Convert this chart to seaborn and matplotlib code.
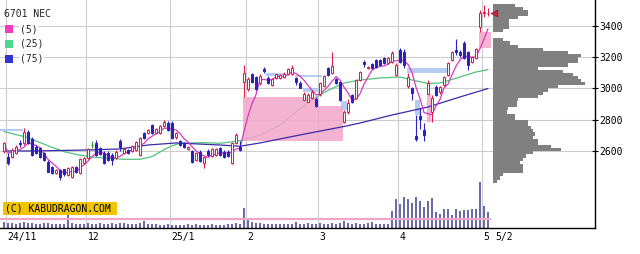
import numpy as np
import pandas as pd
import matplotlib
matplotlib.use("Agg")
import matplotlib.pyplot as plt
from matplotlib.patches import Rectangle
from matplotlib.transforms import blended_transform_factory
import seaborn as sns

# ---------------- data ----------------
title = "6701 NEC"
ma_labels = ["(5)", "(25)", "(75)"]
copyright_text = "(C) KABUDRAGON.COM"

month_start = [1, 21, 42, 61, 79, 99, 120]
month_labels = ["24/11", "12", "25/1", "2", "3", "4", "5"]
last_label = "5/2"
price_ticks = [2600, 2800, 3000, 3200, 3400]

open_ = [2602, 2566, 2566, 2588, 2655, 2651, 2725, 2676, 2630, 2620,
         2588, 2534, 2498, 2460, 2481, 2485, 2449, 2438, 2498, 2462,
         2525, 2557, 2640, 2652, 2620, 2588, 2588, 2577, 2556, 2666,
         2589, 2608, 2602, 2608, 2577, 2715, 2715, 2767, 2715, 2719,
         2761, 2782, 2782, 2689, 2668, 2655, 2613, 2604, 2545, 2598,
         2525, 2604, 2570, 2577, 2620, 2598, 2598, 2528, 2652, 2630,
         3044, 2997, 3092, 3073, 3035, 3125, 3067, 3022, 3067, 3067,
         3073, 3092, 3092, 3067, 3035, 2927, 2914, 2939, 2933, 2965,
         3016, 3131, 3099, 3060, 3041, 2787, 2850, 2959, 2940, 3054,
         3169, 3131, 3156, 3182, 3182, 3194, 3162, 3169, 3086, 3245,
         3232, 3016, 3003, 2700, 2825, 2736, 2968, 2850, 3010, 2978,
         3022, 3086, 3182, 3245, 3232, 3290, 3232, 3169, 3194, 3392,
         3480, 3478]
high_ = [2662, 2590, 2620, 2640, 2672, 2746, 2735, 2690, 2640, 2630,
         2595, 2545, 2505, 2490, 2485, 2490, 2500, 2505, 2505, 2560,
         2565, 2622, 2667, 2672, 2630, 2600, 2600, 2590, 2606, 2676,
         2622, 2615, 2640, 2668, 2690, 2722, 2745, 2775, 2748, 2765,
         2800, 2795, 2795, 2725, 2675, 2660, 2636, 2610, 2596, 2605,
         2570, 2612, 2622, 2620, 2628, 2605, 2605, 2660, 2716, 2666,
         3150, 3071, 3100, 3080, 3090, 3137, 3080, 3070, 3095, 3095,
         3105, 3130, 3150, 3073, 3045, 2978, 2970, 2990, 2945, 3040,
         3086, 3140, 3234, 3070, 3050, 2863, 2930, 2965, 3060, 3112,
         3182, 3145, 3165, 3190, 3188, 3201, 3201, 3236, 3160, 3258,
         3250, 3099, 3010, 2831, 2875, 2780, 3054, 2960, 3022, 3016,
         3080, 3170, 3240, 3315, 3245, 3300, 3240, 3210, 3258, 3500,
         3532, 3510]
low_ = [2589, 2515, 2555, 2580, 2625, 2640, 2645, 2570, 2580, 2560,
        2540, 2465, 2455, 2455, 2417, 2445, 2440, 2432, 2462, 2455,
        2518, 2550, 2619, 2570, 2578, 2518, 2538, 2513, 2548, 2600,
        2582, 2580, 2595, 2600, 2570, 2678, 2708, 2710, 2708, 2712,
        2755, 2730, 2678, 2680, 2634, 2620, 2608, 2528, 2538, 2532,
        2494, 2570, 2562, 2570, 2570, 2560, 2563, 2520, 2645, 2600,
        2946, 2986, 3035, 2990, 3025, 3099, 3028, 3015, 3060, 3060,
        3068, 3085, 3086, 3022, 3003, 2930, 2912, 2935, 2884, 2955,
        3010, 3080, 3095, 3028, 2920, 2780, 2840, 2905, 2930, 3048,
        3137, 3125, 3125, 3130, 3144, 3156, 3155, 3162, 3080, 3162,
        3131, 3003, 2927, 2666, 2740, 2666, 2965, 2787, 2950, 2965,
        3015, 3080, 3175, 3213, 3200, 3185, 3118, 3160, 3185, 3360,
        3455, 3460]
close_ = [2652, 2524, 2608, 2630, 2645, 2725, 2651, 2577, 2588, 2566,
          2545, 2470, 2460, 2481, 2438, 2455, 2492, 2498, 2470, 2549,
          2557, 2614, 2640, 2577, 2583, 2524, 2545, 2545, 2598, 2626,
          2615, 2590, 2634, 2661, 2683, 2683, 2736, 2715, 2740, 2758,
          2787, 2736, 2683, 2718, 2640, 2626, 2630, 2534, 2589, 2540,
          2564, 2577, 2615, 2615, 2577, 2566, 2570, 2652, 2704, 2608,
          3101, 3060, 3041, 2997, 3080, 3110, 3035, 3060, 3092, 3086,
          3092, 3124, 3131, 3041, 3003, 2965, 2959, 2978, 2888, 3035,
          3080, 3086, 3143, 3035, 2927, 2850, 2908, 2914, 3054, 3105,
          3155, 3137, 3131, 3137, 3150, 3162, 3194, 3226, 3150, 3169,
          3150, 3073, 2971, 2680, 2806, 2704, 3035, 2940, 2959, 3010,
          3073, 3162, 3232, 3232, 3213, 3194, 3150, 3201, 3250, 3480,
          3487, 3483]

volume = [6, 5, 5, 4, 5, 6, 5, 5, 4, 4, 5, 5, 4, 4, 4, 4, 13, 5, 4, 4, 4,
          5, 4, 4, 5, 4, 4, 5, 4, 5, 5, 4, 4, 4, 5, 7, 4, 4, 4, 3, 3, 4,
          3, 3, 3, 3, 4, 3, 4, 3, 3, 3, 4, 3, 3, 3, 4, 4, 5, 4,
          20, 9, 6, 5, 5, 4, 4, 4, 4, 4, 4, 4, 4, 6, 4, 4, 5, 4, 4, 5,
          4, 4, 5, 4, 5, 7, 5, 4, 5, 4, 4, 5, 6, 4, 4, 4, 4, 17, 29,
          24, 31, 29, 25, 31, 27, 21, 27, 30, 16, 14, 19, 19, 13, 19, 17,
          18, 18, 19, 19, 46, 22, 16]
volume_avg = 9.5

ma25_idx = [0, 6, 12, 15, 18, 22, 26, 30, 34, 37, 40, 42, 44, 50, 54, 57, 60,
            64, 69, 73, 76, 78, 81, 85, 89, 94, 99, 102, 106, 109, 111, 114,
            118, 121]
ma25_val = [2726, 2687, 2625, 2598, 2580, 2563, 2556, 2549, 2549, 2566, 2610,
            2635, 2651, 2655, 2651, 2660, 2672, 2704, 2767, 2850, 2910, 2944,
            2988, 3035, 3054, 3067, 3073, 3054, 3032, 3035, 3050, 3073, 3105,
            3120]
ma75_idx = [0, 7, 14, 22, 29, 36, 43, 49, 54, 59, 64, 74, 85, 89, 97, 106, 114, 121]
ma75_val = [2602, 2602, 2605, 2609, 2615, 2640, 2653, 2646, 2640, 2632, 2653,
            2704, 2758, 2780, 2831, 2882, 2946, 3000]

# price gaps (windows): from / to candle index, low / high price, up-gap flag
gap_from = [-1, 59.75, 59.75, 65.5, 72.75, 74.75, 84.25, 100.75, 102.75, 105.75, 118.75]
gap_to = [4.75, 78.5, 84.75, 70.25, 79.5, 78.5, 85.75, 110.75, 104.0, 106.75, 121.75]
gap_low = [2729, 2888, 2666, 3080, 3073, 2978, 2863, 3099, 2831, 2787, 3258]
gap_high = [2742, 2946, 2888, 3099, 3086, 3003, 2920, 3131, 2927, 2965, 3360]
gap_up = [False, True, True, False, False, False, False, False, False, True, True]

# price-by-volume profile (20-yen bins starting at 2400)
profile_bins = [2400, 2420, 2440, 2460, 2480, 2500, 2520, 2540, 2560, 2580,
                2600, 2620, 2640, 2660, 2680, 2700, 2720, 2740, 2760, 2780,
                2800, 2820, 2840, 2860, 2880, 2900, 2920, 2940, 2960, 2980,
                3000, 3020, 3040, 3060, 3080, 3100, 3120, 3140, 3160, 3180,
                3200, 3220, 3240, 3260, 3280, 3300, 3320, 3340, 3360, 3380,
                3400, 3420, 3440, 3460, 3480, 3500, 3520]
profile_vol = [4, 7, 10, 30, 30, 30, 27, 30, 33, 40,
               68, 58, 45, 45, 40, 42, 40, 38, 35, 35,
               22, 22, 14, 15, 24, 24, 25, 45, 50, 55,
               65, 92, 88, 85, 80, 70, 45, 75, 85, 85,
               88, 75, 50, 25, 17, 10, 0, 0, 10, 16,
               16, 16, 25, 35, 35, 30, 22]

# ---------------- style ----------------
sns.set_theme(style="white")
plt.rcParams['font.family'] = ['DejaVu Sans Mono', 'DejaVu Sans']

W, H = 640, 254
UP, DOWN, DOJI = "#dc1e4b", "#2a22c0", "#2f9a3a"
C_MA5, C_MA25, C_MA75 = "#d838c0", "#52c27c", "#3a2aa8"
PINK, LBLUE = "#f2a6c9", "#a9c3f0"
FS = 7

fig = plt.figure(figsize=(W / 100, H / 100), dpi=100)
fig.patch.set_facecolor("white")
ax = fig.add_axes([0, 26 / H, 595 / W, 228 / H])
axv = ax.twinx()
ax.set_zorder(axv.get_zorder() + 1)
ax.patch.set_visible(False)

n = len(close_)
idx = np.arange(n)
o = np.array(open_, float); h = np.array(high_, float)
l = np.array(low_, float); c = np.array(close_, float)

xmin, xmax = -1, 147.75
ymin, ymax = 2111.3, 3563.7

# volume
axv.bar(idx, volume, width=0.3, color="#6a6aa6", linewidth=0, zorder=2)
axv.hlines(volume_avg, -1, n - 0.3, color="#f0a4c8", linewidth=1.6, zorder=3)
axv.set_ylim(0, 228)
axv.set_yticks([])
for s in axv.spines.values():
    s.set_visible(False)

# grid
ax.set_xlim(xmin, xmax)
ax.set_ylim(ymin, ymax)
ax.set_xticks([m - 0.5 for m in month_start])
ax.set_xticklabels([])
ax.set_yticks(price_ticks)
ax.set_yticklabels([str(p) for p in price_ticks])
ax.grid(True, which="major", color="#cccccc", linewidth=0.8)
ax.set_axisbelow(True)

# volume profile
ax.barh(profile_bins, [v / 4 for v in profile_vol], height=20, left=122.25,
        align="edge", color="#808080", linewidth=0, zorder=1.5)

# moving averages
ma5 = pd.Series(c).rolling(5, min_periods=1).mean()
sns.lineplot(x=ma25_idx, y=ma25_val, ax=ax, color=C_MA25, linewidth=0.9,
             estimator=None, sort=False, legend=False, zorder=1.8)
sns.lineplot(x=ma75_idx, y=ma75_val, ax=ax, color=C_MA75, linewidth=0.9,
             estimator=None, sort=False, legend=False, zorder=3)
sns.lineplot(x=idx, y=ma5, ax=ax, color=C_MA5, linewidth=0.9,
             estimator=None, sort=False, legend=False, zorder=3.2)

# gap rectangles
for g0, g1, lo, hi, upg in zip(gap_from, gap_to, gap_low, gap_high, gap_up):
    ax.add_patch(Rectangle((g0, lo), g1 - g0, hi - lo,
                           facecolor=PINK if upg else LBLUE, edgecolor="none",
                           alpha=0.85, zorder=2.5))

# candles
edge = [DOJI if oo == cc else (UP if cc > oo else DOWN) for oo, cc in zip(o, c)]
face = ["white" if cc > oo else e for oo, cc, e in zip(o, c, edge)]
ax.vlines(idx, l, h, colors=edge, linewidth=0.8, zorder=4)
body_h = np.maximum(np.abs(c - o), 1.5)
ax.bar(idx, body_h, bottom=np.minimum(o, c), width=0.5, color=face,
       edgecolor=edge, linewidth=0.75, zorder=5)

# last price marker
ax.scatter([n - 1 + 1.6], [c[-1]], marker="<", s=22, color="#e8203c",
           edgecolors="#801020", linewidths=0.5, zorder=6)

ax.set_xlabel("")
ax.set_ylabel("")
for side in ["left", "top"]:
    ax.spines[side].set_visible(False)
for side in ["right", "bottom"]:
    ax.spines[side].set_visible(True)
    ax.spines[side].set_color("black")
    ax.spines[side].set_linewidth(1.0)
ax.yaxis.tick_right()
ax.tick_params(axis="y", which="both", direction="inout", length=4, width=0.8,
               labelsize=FS, pad=1, colors="black", left=False, right=True)
ax.tick_params(axis="x", which="both", length=0, bottom=False)

# date labels
tr = blended_transform_factory(ax.transData, ax.transAxes)
for m, lab in zip(month_start, month_labels):
    ax.text(m - 0.5 + 0.4, -0.04, lab, transform=tr, ha="left", va="center",
            fontsize=FS, color="black", clip_on=False)
ax.text(n - 1 + 1.8, -0.04, last_label, transform=tr, ha="left", va="center",
        fontsize=FS, color="black", clip_on=False)

# title and legend
def fx(x):
    return x / W


def fy(y):
    return 1 - y / H


fig.text(fx(4), fy(14), title, fontsize=FS, va="center", ha="left", zorder=10)
for k, (lab, col) in enumerate(zip(ma_labels, [ "#f03cc0", "#50d890", "#3434d0"])):
    yc = 29 + 14.8 * k
    fig.add_artist(Rectangle((fx(5), fy(yc + 4)), 8 / W, 8 / H, facecolor=col,
                             edgecolor="none", transform=fig.transFigure, zorder=10))
    fig.text(fx(20), fy(yc), lab, fontsize=FS, va="center", ha="left", zorder=10,
             bbox=dict(facecolor="white", edgecolor="none", pad=0.5))

# copyright box
fig.add_artist(Rectangle((fx(3), fy(215)), 114 / W, 13 / H, facecolor="#f0c400",
                         edgecolor="none", transform=fig.transFigure, zorder=10))
fig.text(fx(5), fy(208.5), copyright_text, fontsize=FS, va="center", ha="left",
         zorder=11, color="black")

fig.savefig("out.png", dpi=100)
